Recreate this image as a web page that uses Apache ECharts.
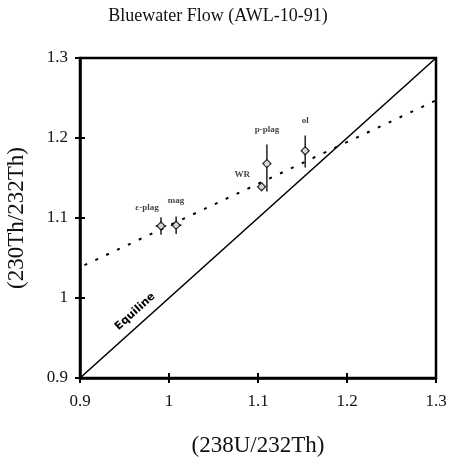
<!DOCTYPE html>
<html>
<head>
<meta charset="utf-8">
<title>Bluewater Flow</title>
<script src="https://cdn.jsdelivr.net/npm/echarts@6/dist/echarts.min.js"></script>
<style>
  html, body { margin: 0; padding: 0; background: #fff; }
  #chart { width: 450px; height: 468px; }
</style>
</head>
<body>
<div id="chart"></div>
<script>
// samples: (238U/232Th), (230Th/232Th) and their errors
var names = ['ε-plag', 'mag', 'WR', 'p-plag', 'ol'];
var uTh   = [0.991, 1.008, 1.104, 1.110, 1.153];
var thTh  = [1.090, 1.091, 1.139, 1.168, 1.184];
var xErr  = [0.006, 0.006, 0.004, 0.004, 0.004];
var yErrLo = [0.011, 0.011, 0.004, 0.035, 0.021];
var yErrHi = [0.011, 0.011, 0.004, 0.024, 0.019];

// isochron (dashed) and equiline end points
var isoX = [0.905, 1.3];
var isoY = [1.041, 1.247];
var equiX = [0.9, 1.3];
var equiY = [0.9, 1.3];

var serif = 'Liberation Serif';

// label placement per sample (style only)
var labelPos = {
  'ε-plag': { position: 'top', offset: [-14, -4] },
  'mag':    { position: 'top', offset: [0, -10] },
  'WR':     { position: 'left', offset: [-2, -12] },
  'p-plag': { position: 'top', offset: [0, -20] },
  'ol':     { position: 'top', offset: [0, -16] }
};

var points = names.map(function (n, i) {
  return {
    name: n,
    value: [uTh[i], thTh[i]],
    label: {
      show: true,
      formatter: n,
      position: labelPos[n].position,
      offset: labelPos[n].offset
    }
  };
});

var errData = names.map(function (n, i) {
  return [uTh[i], thTh[i], xErr[i], yErrLo[i], yErrHi[i]];
});

var chart = echarts.init(document.getElementById('chart'));

var fmt = function (v) { return String(Math.round(v * 10) / 10); };

chart.setOption({
  animation: false,
  backgroundColor: '#fff',
  title: {
    text: 'Bluewater Flow (AWL-10-91)',
    left: 213,
    textAlign: 'center',
    top: 2,
    textStyle: { fontFamily: serif, fontSize: 18, fontWeight: 'normal', color: '#111' }
  },
  grid: {
    left: 80, right: 14, top: 58, bottom: 90,
    outerBoundsMode: 'none',
    show: true, borderColor: '#000', borderWidth: 2.5, backgroundColor: 'transparent'
  },
  xAxis: [{
    type: 'value', min: 0.9, max: 1.3, interval: 0.1,
    name: '(238U/232Th)', nameLocation: 'middle', nameGap: 56,
    nameTextStyle: { fontFamily: serif, fontSize: 23, color: '#111' },
    axisLine: { show: true, onZero: false, lineStyle: { color: '#000', width: 2.5 } },
    axisTick: { show: true, length: 5, lineStyle: { color: '#000', width: 2 } },
    axisLabel: { formatter: fmt, margin: 15, fontFamily: serif, fontSize: 17, color: '#111' },
    splitLine: { show: false }
  }, {
    type: 'value', min: 0.9, max: 1.3, interval: 0.1, position: 'bottom',
    axisLine: { show: false },
    axisTick: { show: true, inside: true, length: 5, lineStyle: { color: '#000', width: 2 } },
    axisLabel: { show: false },
    splitLine: { show: false }
  }],
  yAxis: [{
    type: 'value', min: 0.9, max: 1.3, interval: 0.1,
    name: '(230Th/232Th)', nameLocation: 'middle', nameGap: 52,
    nameTextStyle: { fontFamily: serif, fontSize: 23, color: '#111' },
    axisLine: { show: true, onZero: false, lineStyle: { color: '#000', width: 2.5 } },
    axisTick: { show: true, length: 5, lineStyle: { color: '#000', width: 2 } },
    axisLabel: { formatter: fmt, margin: 12, fontFamily: serif, fontSize: 17, color: '#111' },
    splitLine: { show: false }
  }, {
    type: 'value', min: 0.9, max: 1.3, interval: 0.1, position: 'left',
    axisLine: { show: false },
    axisTick: { show: true, inside: true, length: 5, lineStyle: { color: '#000', width: 2 } },
    axisLabel: { show: false },
    splitLine: { show: false }
  }],
  series: [
    {
      name: 'Equiline',
      type: 'line',
      data: [[equiX[0], equiY[0]], [equiX[1], equiY[1]]],
      symbol: 'none',
      lineStyle: { color: '#000', width: 1.6 },
      markPoint: {
        symbol: 'circle', symbolSize: 0,
        data: [{
          coord: [0.962, 0.983],
          label: {
            show: true, formatter: 'Equiline', rotate: 42,
            fontFamily: 'DejaVu Sans', fontWeight: 'bold', fontSize: 11, color: '#000'
          }
        }]
      },
      z: 2
    },
    {
      name: 'isochron',
      type: 'line',
      data: [[isoX[0], isoY[0]], [isoX[1], isoY[1]]],
      symbol: 'none',
      lineStyle: { color: '#000', width: 2, type: [3, 9] },
      z: 2
    },
    {
      name: 'errors',
      type: 'custom',
      data: errData,
      renderItem: function (params, api) {
        var x = api.value(0), y = api.value(1);
        var ex = api.value(2), lo = api.value(3), hi = api.value(4);
        var l = api.coord([x - ex, y]), r = api.coord([x + ex, y]);
        var b = api.coord([x, y - lo]), t = api.coord([x, y + hi]);
        var st = { stroke: '#000', lineWidth: 1.3 };
        return {
          type: 'group',
          children: [
            { type: 'line', shape: { x1: l[0], y1: l[1], x2: r[0], y2: r[1] }, style: st },
            { type: 'line', shape: { x1: b[0], y1: b[1], x2: t[0], y2: t[1] }, style: st }
          ]
        };
      },
      z: 3
    },
    {
      name: 'samples',
      type: 'scatter',
      data: points,
      symbol: 'diamond',
      symbolSize: 8,
      itemStyle: { color: '#fff', borderColor: '#000', borderWidth: 1.3 },
      label: { fontFamily: serif, fontSize: 9, fontWeight: 'bold', color: '#111' },
      z: 4
    }
  ]
});
</script>
</body>
</html>
